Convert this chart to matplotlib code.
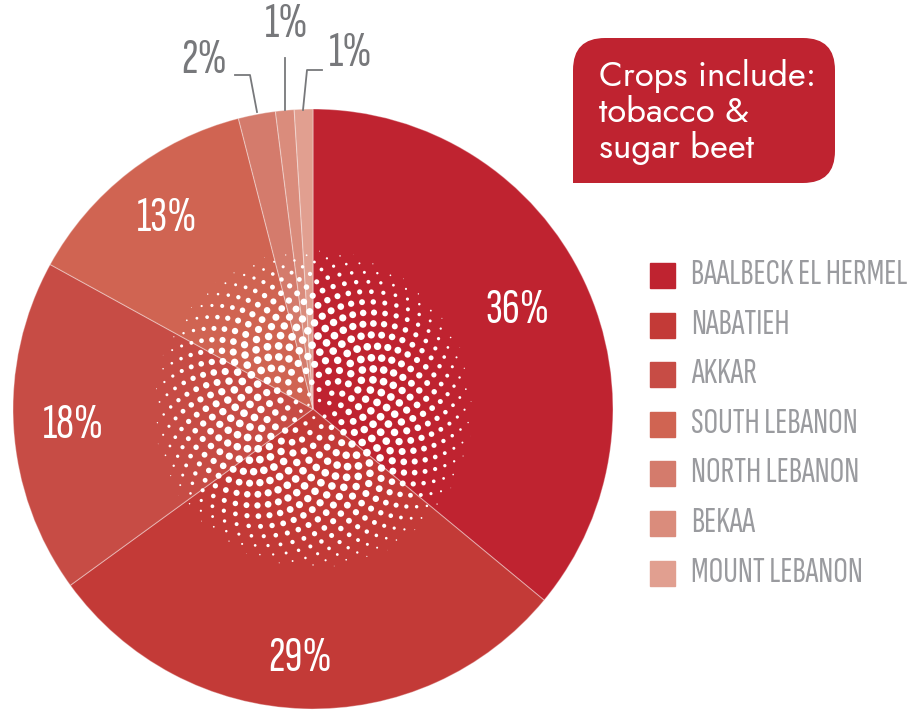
import numpy as np
import matplotlib
matplotlib.use('Agg')
from matplotlib import pyplot as plt
from matplotlib.path import Path
from matplotlib.patches import PathPatch

cond = ['Sofia Sans Extra Condensed', 'DejaVu Sans']
geo = ['Jost', 'DejaVu Sans']

regions = ['BAALBECK EL HERMEL', 'NABATIEH', 'AKKAR', 'SOUTH LEBANON',
           'NORTH LEBANON', 'BEKAA', 'MOUNT LEBANON']
shares = [36, 29, 18, 13, 2, 1, 1]
colors = ['#BF2330', '#C33A37', '#C74C45', '#D06452', '#D47B6C', '#DA8C7C', '#E19F90']

W, H = 922, 714
fig = plt.figure(figsize=(W / 100, H / 100), dpi=100)
ax = fig.add_axes([0, 0, 1, 1])

cx, cy, R = 313, H - 409, 300
ax.pie(shares, colors=colors, startangle=90, counterclock=False,
       center=(cx, cy), radius=R, frame=True,
       wedgeprops=dict(edgecolor=(1, 1, 1, 0.35), linewidth=0.8))
ax.set_xlim(0, W)
ax.set_ylim(0, H)
ax.set_aspect('equal')
ax.axis('off')

# halftone dots in the middle (decoration)
n = 680
Rd = 160
k = np.arange(1, n + 1)
rr = Rd * np.sqrt(k / n)
th = k * np.pi * (3 - np.sqrt(5))
d = 9.0 * np.sin(np.pi * np.clip(rr / Rd, 0, 1)) ** 0.6 * (1 - 0.3 * rr / Rd)
ax.scatter(cx + rr * np.cos(th), cy + rr * np.sin(th), s=(d * 0.72) ** 2,
           color='white', linewidths=0, zorder=3)

# percentage labels inside
big = dict(color='white', fontsize=36, family=cond, weight='semibold',
           ha='center', va='center', zorder=5)
ax.text(517, H - 310, f'{shares[0]}%', **big)
ax.text(300, H - 658, f'{shares[1]}%', **big)
ax.text(73, H - 425, f'{shares[2]}%', **big)
ax.text(167, H - 218, f'{shares[3]}%', **big)

# small slices outside with leaders
grey = '#77787B'
out = dict(color=grey, fontsize=36, family=cond, weight='semibold', ha='center', va='center')
ax.text(204, H - 60, f'{shares[4]}%', **out)
ax.text(287, H - 24, f'{shares[5]}%', **out)
ax.text(351, H - 53, f'{shares[6]}%', **out)
ax.plot([235, 250, 257], [H - 75, H - 75, H - 112], color=grey, lw=1.3)
ax.plot([285, 285], [H - 58, H - 110], color=grey, lw=1.3)
ax.plot([322, 307, 303], [H - 70, H - 70, H - 110], color=grey, lw=1.3)

# callout box
x0, x1, y0, y1, r = 573, 835, H - 183, H - 38, 32
verts = [(x0, y0), (x1 - r, y0), (x1, y0), (x1, y0 + r), (x1, y1 - r), (x1, y1),
         (x1 - r, y1), (x0 + r, y1), (x0, y1), (x0, y1 - r), (x0, y0)]
codes = [Path.MOVETO, Path.LINETO, Path.CURVE3, Path.CURVE3, Path.LINETO, Path.CURVE3,
         Path.CURVE3, Path.LINETO, Path.CURVE3, Path.CURVE3, Path.CLOSEPOLY]
ax.add_patch(PathPatch(Path(verts, codes), facecolor='#BF2330', edgecolor='none'))
ax.text(599, H - 112, 'Crops include:\ntobacco &\nsugar beet', color='white',
        fontsize=25, family=geo, ha='left', va='center', linespacing=1.08)

# legend
ly = [275, 325, 374, 424, 473, 523, 573]
for y, c, name in zip(ly, colors, regions):
    ax.add_patch(plt.Rectangle((650, H - y - 12.5), 25, 25, color=c))
    ax.text(691, H - y, name, color='#9A9B9F', fontsize=26.3, family=cond,
            ha='left', va='center')

fig.savefig('out.png', dpi=100)
